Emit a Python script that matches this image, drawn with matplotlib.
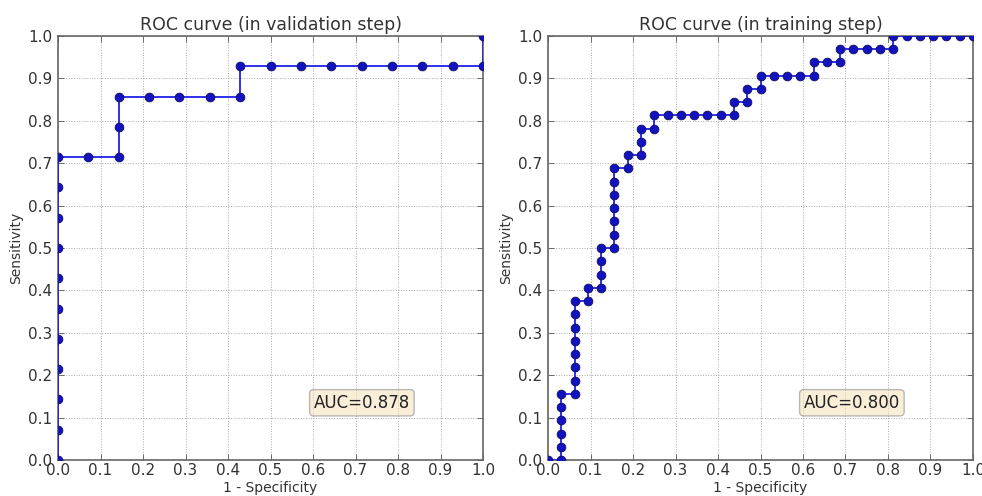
import matplotlib
matplotlib.use("Agg")
import matplotlib.pyplot as plt
import numpy as np

# Validation ROC (14 positives, 14 negatives) — counts
val_fp = [0, 0, 0, 0, 0, 0, 0, 0, 0, 0, 0, 1, 2, 2, 2, 3, 4, 5, 6, 6, 7, 8, 9, 10, 11, 12, 13, 14, 14]
val_tp = [0, 1, 2, 3, 4, 5, 6, 7, 8, 9, 10, 10, 10, 11, 12, 12, 12, 12, 12, 13, 13, 13, 13, 13, 13, 13, 13, 13, 14]
val_n = 14
val_p = 14
val_auc = "AUC=0.878"

# Training ROC (32 positives, 32 negatives)
tr_fp = [0, 1, 1, 1, 1, 1, 1, 2, 2, 2, 2, 2, 2, 2, 2, 3, 3, 4, 4, 4, 4, 5, 5, 5, 5, 5, 5, 5,
         6, 6, 7, 7, 7, 8, 8, 9, 10, 11, 12, 13, 14, 14, 15, 15, 16, 16, 17, 18, 19, 20, 20,
         21, 22, 22, 23, 24, 25, 26, 26, 27, 28, 29, 30, 31, 32]
tr_tp = [0, 0, 1, 2, 3, 4, 5, 5, 6, 7, 8, 9, 10, 11, 12, 12, 13, 13, 14, 15, 16, 16, 17, 18, 19, 20, 21, 22,
         22, 23, 23, 24, 25, 25, 26, 26, 26, 26, 26, 26, 26, 27, 27, 28, 28, 29, 29, 29, 29, 29, 30,
         30, 30, 31, 31, 31, 31, 31, 32, 32, 32, 32, 32, 32, 32]
tr_n = 32
tr_p = 32
tr_auc = "AUC=0.800"

titles = ["ROC curve (in validation step)", "ROC curve (in training step)"]
ticks = np.round(np.arange(0, 1.01, 0.1), 1)
tick_labels = ["%.1f" % t for t in ticks]

fig = plt.figure(figsize=(9.82, 4.96), dpi=100)
fig.patch.set_facecolor("white")

rects = [[58/982, 36/496, 425/982, 424/496], [548/982, 36/496, 425/982, 424/496]]
data = [(val_fp, val_tp, val_n, val_p, val_auc), (tr_fp, tr_tp, tr_n, tr_p, tr_auc)]

for rect, (fp, tp, n, p, auc), title in zip(rects, data, titles):
    ax = fig.add_axes(rect)
    x = np.array(fp) / n
    y = np.array(tp) / p
    ax.plot(x, y, "-", color="#2020e8", lw=1.3, marker="o", markersize=6.3,
            markerfacecolor="#1212c0", markeredgecolor="#101060", markeredgewidth=0.6, zorder=3)
    ax.set_xlim(0, 1)
    ax.set_ylim(0, 1)
    ax.set_xticks(ticks)
    ax.set_yticks(ticks)
    ax.set_xticklabels(tick_labels, fontsize=11, color="#333333")
    ax.set_yticklabels(tick_labels, fontsize=11, color="#333333")
    ax.tick_params(direction="in", top=True, right=True, length=4, width=0.6, color="#555555", pad=4)
    ax.tick_params(axis="x", pad=2)
    ax.grid(True, linestyle=":", color="#aaaaaa", linewidth=0.7)
    for s in ax.spines.values():
        s.set_color("#666666")
        s.set_linewidth(1.2)
    ax.set_title(title, fontsize=12.5, color="#333333", pad=4)
    ax.set_xlabel("1 - Specificity", fontsize=10, color="#333333", labelpad=2)
    ax.set_ylabel("Sensitivity", fontsize=10, color="#333333", labelpad=4)
    ax.text(0.715, 0.135, auc, fontsize=12, ha="center", va="center", color="#222222",
            bbox=dict(boxstyle="round,pad=0.25", facecolor="wheat", alpha=0.5, edgecolor="#777777"))

fig.savefig("out.png", dpi=100, facecolor="white")
